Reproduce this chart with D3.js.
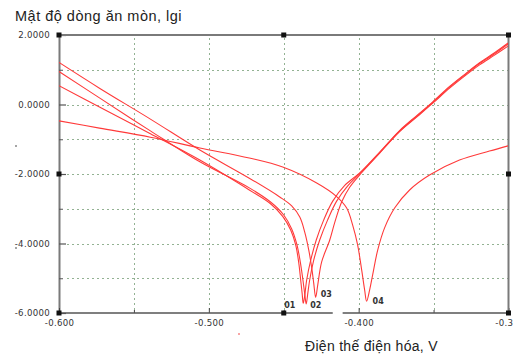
<!DOCTYPE html>
<html><head><meta charset="utf-8">
<script src="https://cdn.jsdelivr.net/npm/d3@7"></script>
<style>body{margin:0;background:#fff}svg{display:block}</style>
</head><body>
<svg id="c" width="513" height="354"></svg>
<script>
// ---- data ----
const yTitle = "Mật độ dòng ăn mòn, lgi";
const xTitle = "Điện thế điện hóa, V";
const yMajorTicks = [2, 0, -2, -4, -6];
const yMinorTicks = [1, -1, -3, -5];
const yTickLabels = ["2.0000", "0.0000", "-2.0000", "-4.0000", "-6.0000"];
const xMajorTicks = [-0.6, -0.5, -0.4, -0.3];
const xMinorTicks = [-0.55, -0.45, -0.35];
const xTickLabels = ["-0.600", "-0.500", "-0.400", "-0.3"];
const seriesNames = ["01", "02", "03", "04"];

const s01 = [[-0.600,0.54],[-0.573,-0.07],[-0.539,-0.84],[-0.506,-1.60],[-0.473,-2.46],[-0.459,-2.85],[-0.4507,-3.22],[-0.4453,-3.62],[-0.4420,-4.05],[-0.4400,-4.55],[-0.4387,-5.05],[-0.4377,-5.45],[-0.4370,-5.72],[-0.4360,-5.50],[-0.4347,-5.05],[-0.432,-4.48],[-0.4283,-3.90],[-0.4233,-3.32],[-0.4173,-2.78],[-0.4093,-2.33],[-0.3993,-1.97],[-0.386,-1.37],[-0.3727,-0.75],[-0.3607,-0.30],[-0.3507,0.07],[-0.3393,0.52],[-0.328,0.91],[-0.3193,1.20],[-0.3093,1.49],[-0.3003,1.77]];
const s02 = [[-0.600,0.95],[-0.573,0.19],[-0.539,-0.76],[-0.506,-1.65],[-0.473,-2.40],[-0.459,-2.80],[-0.450,-3.18],[-0.4447,-3.58],[-0.4413,-4.02],[-0.4390,-4.52],[-0.4373,-5.02],[-0.4360,-5.45],[-0.4350,-5.74],[-0.4340,-5.45],[-0.4327,-5.05],[-0.430,-4.48],[-0.426,-3.90],[-0.4207,-3.32],[-0.4147,-2.78],[-0.4073,-2.34],[-0.3993,-1.99],[-0.386,-1.39],[-0.3727,-0.77],[-0.3607,-0.32],[-0.3507,0.05],[-0.3393,0.50],[-0.328,0.89],[-0.3193,1.18],[-0.3093,1.46],[-0.3003,1.74]];
const s03 = [[-0.600,1.21],[-0.573,0.47],[-0.539,-0.42],[-0.506,-1.31],[-0.473,-2.12],[-0.4527,-2.66],[-0.4447,-2.92],[-0.4393,-3.24],[-0.436,-3.67],[-0.4333,-4.19],[-0.4313,-4.71],[-0.430,-5.14],[-0.4287,-5.55],[-0.4273,-5.19],[-0.4247,-4.53],[-0.4193,-3.90],[-0.416,-3.40],[-0.4113,-2.80],[-0.406,-2.38],[-0.398,-1.96],[-0.386,-1.40],[-0.3727,-0.78],[-0.3607,-0.34],[-0.3507,0.03],[-0.3393,0.47],[-0.328,0.86],[-0.3193,1.14],[-0.3093,1.42],[-0.3003,1.68]];
const s04 = [[-0.600,-0.47],[-0.573,-0.68],[-0.539,-0.94],[-0.506,-1.25],[-0.473,-1.54],[-0.4507,-1.80],[-0.428,-2.26],[-0.4147,-2.65],[-0.408,-2.98],[-0.404,-3.47],[-0.4007,-4.04],[-0.398,-4.76],[-0.396,-5.34],[-0.3947,-5.66],[-0.3927,-5.34],[-0.3907,-4.91],[-0.3873,-4.19],[-0.3827,-3.55],[-0.376,-2.98],[-0.366,-2.46],[-0.3527,-2.03],[-0.3327,-1.60],[-0.3127,-1.34],[-0.3003,-1.19]];
const seriesData = [s01, s02, s03, s04];

// ---- layout ----
const svg = d3.select("#c");
const L = 59, R = 508.5, T = 35, B = 313;
const x = d3.scaleLinear().domain([-0.6, -0.3]).range([L, R]);
const y = d3.scaleLinear().domain([-6, 2]).range([B, T]);

const gridColor = "#93b293";
const axisColor = "#7a7a7a";

// grid
svg.append("g").selectAll("line").data(yMajorTicks.concat(yMinorTicks).filter(v => v > -6 && v < 2))
  .join("line").attr("x1", L + 8).attr("x2", R).attr("y1", d => Math.round(y(d)) + 0.5).attr("y2", d => Math.round(y(d)) + 0.5)
  .attr("stroke", gridColor).attr("stroke-width", 1).attr("stroke-dasharray", "2,3");
svg.append("g").selectAll("line").data(xMajorTicks.concat(xMinorTicks).filter(v => v > -0.6 && v < -0.3))
  .join("line").attr("y1", T + 3).attr("y2", B - 3).attr("x1", d => Math.round(x(d)) + 0.5).attr("x2", d => Math.round(x(d)) + 0.5)
  .attr("stroke", gridColor).attr("stroke-width", 1).attr("stroke-dasharray", "2,3");

// y axis (labels + major ticks)
const yAxis = d3.axisLeft(y).tickValues(yMajorTicks)
  .tickFormat((d, i) => yTickLabels[i]).tickSizeInner(-7).tickSizeOuter(0).tickPadding(9);
const gy = svg.append("g").attr("transform", `translate(${L},0)`).call(yAxis);
gy.select(".domain").attr("stroke", axisColor).attr("stroke-width", 2);
gy.selectAll(".tick line").attr("stroke", "#555").attr("stroke-width", 1.2);
gy.selectAll(".tick text").attr("font-family", "DejaVu Sans, sans-serif").attr("font-size", 8.6)
  .attr("fill", "#333").attr("letter-spacing", "0.3px");
const gyMinor = svg.append("g").attr("transform", `translate(${L},0)`)
  .call(d3.axisLeft(y).tickValues(yMinorTicks).tickFormat("").tickSizeInner(-4).tickSizeOuter(0));
gyMinor.select(".domain").remove();
gyMinor.selectAll(".tick line").attr("stroke", "#555");

// x axis
const xAxis = d3.axisBottom(x).tickValues(xMajorTicks)
  .tickFormat((d, i) => xTickLabels[i]).tickSizeInner(-5).tickSizeOuter(0).tickPadding(7);
const gx = svg.append("g").attr("transform", `translate(0,${B})`).call(xAxis);
gx.select(".domain").remove();
gx.selectAll(".tick line").attr("stroke", "#444");
gx.selectAll(".tick text").attr("font-family", "DejaVu Sans, sans-serif").attr("font-size", 8.6)
  .attr("fill", "#333").attr("letter-spacing", "0.3px");
// last label sits against the right edge, as in the reference
gx.selectAll(".tick text").filter((d, i) => i === xMajorTicks.length - 1)
  .attr("text-anchor", "end").attr("dx", 4.3);
const gxMinor = svg.append("g").attr("transform", `translate(0,${B})`)
  .call(d3.axisBottom(x).tickValues(xMinorTicks).tickFormat("").tickSizeInner(-3).tickSizeOuter(0));
gxMinor.select(".domain").remove();
gxMinor.selectAll(".tick line").attr("stroke", "#444");

// frame
svg.append("line").attr("x1", L).attr("x2", R).attr("y1", T).attr("y2", T).attr("stroke", axisColor).attr("stroke-width", 2);
svg.append("line").attr("x1", R).attr("x2", R).attr("y1", T).attr("y2", B).attr("stroke", axisColor).attr("stroke-width", 2);
svg.append("line").attr("x1", L).attr("x2", x(-0.4173)).attr("y1", B).attr("y2", B).attr("stroke", "#555").attr("stroke-width", 1.6);
svg.append("line").attr("x1", x(-0.4107)).attr("x2", R).attr("y1", B).attr("y2", B).attr("stroke", "#555").attr("stroke-width", 1.6);

// handles
const handles = [[L, T], [(L + R) / 2, T], [R, T], [L, (T + B) / 2], [R, (T + B) / 2], [L, B], [(L + R) / 2, B], [R, B]];
svg.append("g").selectAll("rect").data(handles).join("rect")
  .attr("x", d => d[0] - 2.5).attr("y", d => d[1] - 2.5).attr("width", 5).attr("height", 5).attr("fill", "#111");

// curves
svg.append("clipPath").attr("id", "clip").append("rect").attr("x", L).attr("y", T).attr("width", R - L).attr("height", B - T);
const line = d3.line().x(d => x(d[0])).y(d => y(d[1])).curve(d3.curveCatmullRom.alpha(0.5));
svg.append("g").attr("clip-path", "url(#clip)").selectAll("path").data(seriesData).join("path")
  .attr("d", line).attr("fill", "none").attr("stroke", "#ff3a3a").attr("stroke-width", 1.1);

// series labels near minima
const labelOffsets = [[-19, 5], [4, 4], [5, 0], [6, 3]];
seriesData.forEach((s, i) => {
  const m = s.reduce((a, b) => (b[1] < a[1] ? b : a));
  svg.append("text").attr("x", x(m[0]) + labelOffsets[i][0]).attr("y", y(m[1]) + labelOffsets[i][1])
    .attr("font-family", "DejaVu Sans, sans-serif").attr("font-weight", "bold").attr("font-size", 8)
    .attr("fill", "#333").text(seriesNames[i]);
});

// titles
svg.append("text").attr("x", 15).attr("y", 21).attr("font-family", "Liberation Sans, Arial, sans-serif")
  .attr("font-size", 14.5).attr("letter-spacing", "0.5px").attr("fill", "#222").text(yTitle);
svg.append("text").attr("x", 305).attr("y", 351).attr("font-family", "Liberation Sans, Arial, sans-serif")
  .attr("font-size", 14).attr("letter-spacing", "0.3px").attr("fill", "#222").text(xTitle);

// stray marks
svg.append("circle").attr("cx", 16).attr("cy", 146).attr("r", 0.8).attr("fill", "#333");
svg.append("circle").attr("cx", 16).attr("cy", 248).attr("r", 0.8).attr("fill", "#333");
svg.append("circle").attr("cx", 239).attr("cy", 334).attr("r", 0.8).attr("fill", "#e33");
</script>
</body></html>
